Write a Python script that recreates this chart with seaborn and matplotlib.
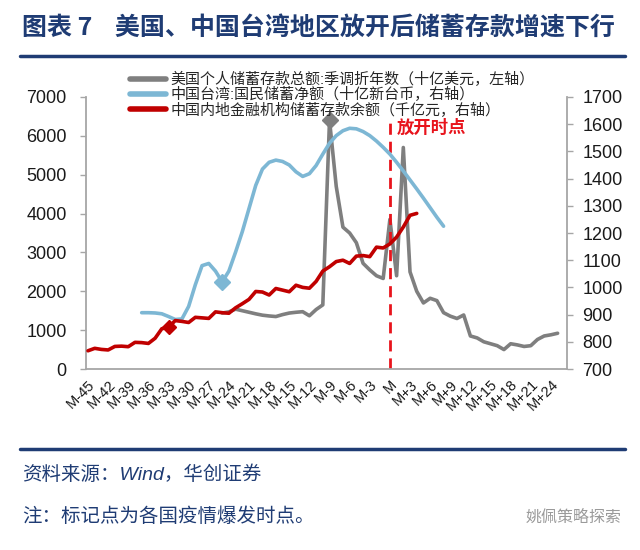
import matplotlib
matplotlib.use('Agg')
import matplotlib.pyplot as plt
from matplotlib.lines import Line2D
from matplotlib.ticker import MultipleLocator
import seaborn as sns

# 美国个人储蓄存款总额（十亿美元，左轴），M-25 ~ M+25
us_months = list(range(-25, 26))
us_values = [1440, 1470, 1540, 1500, 1460, 1420, 1385, 1365, 1350, 1400,
             1440, 1460, 1475, 1370, 1530, 1650, 6400, 4700, 3650, 3500,
             3250, 2720, 2550, 2400, 2330, 3850, 2400, 5700, 2500, 2000,
             1700, 1820, 1760, 1450, 1360, 1300, 1390, 850, 800, 700,
             650, 600, 500, 650, 620, 580, 600, 760, 850, 880, 920]

# 中国台湾国民储蓄净额（十亿新台币，右轴），M-37 ~ M+8
tw_months = list(range(-37, 9))
tw_values = [907, 907, 906, 903, 893, 882, 884, 930, 1010, 1080,
             1088, 1060, 1020, 1060, 1130, 1205, 1290, 1375, 1435, 1460,
             1468, 1463, 1450, 1425, 1408, 1418, 1448, 1490, 1530, 1558,
             1576, 1585, 1583, 1573, 1558, 1538, 1515, 1490, 1460, 1428,
             1395, 1362, 1328, 1293, 1258, 1225]

# 中国内地金融机构储蓄存款余额（千亿元，右轴），M-45 ~ M+4
cn_months = list(range(-45, 5))
cn_values = [767, 776, 772, 770, 783, 784, 782, 798, 797, 794,
             813, 848, 853, 878, 875, 871, 890, 888, 886, 910,
             907, 905, 925, 940, 956, 985, 983, 972, 996, 990,
             984, 1008, 1000, 997, 1022, 1060, 1076, 1095, 1100, 1088,
             1115, 1117, 1113, 1148, 1145, 1160, 1185, 1222, 1265, 1272]

# 疫情爆发时点（标记点）
us_outbreak = -9
tw_outbreak = -25
cn_outbreak = -33

tick_months = list(range(-45, 25, 3))
tick_labels = ['M' if m == 0 else ('M%d' % m if m < 0 else 'M+%d' % m) for m in tick_months]

us_label = '美国个人储蓄存款总额:季调折年数（十亿美元，左轴）'
tw_label = '中国台湾:国民储蓄净额（十亿新台币，右轴）'
cn_label = '中国内地金融机构储蓄存款余额（千亿元，右轴）'

gray = '#7F7F7F'
blue = '#7DB7D4'
red = '#C00000'
navy = '#1F3C74'
axis_gray = '#A6A6A6'

sns.set_style('white')
plt.rcParams['font.family'] = ['Liberation Sans', 'Noto Sans CJK SC', 'DejaVu Sans']
plt.rcParams['axes.unicode_minus'] = False

fig = plt.figure(figsize=(6.4, 5.5), dpi=100)
ax = fig.add_axes([86 / 640, 1 - 369 / 550, 481 / 640, 272 / 550])
ax2 = ax.twinx()

sns.lineplot(x=us_months, y=us_values, ax=ax, color=gray, lw=2.6)
sns.lineplot(x=tw_months, y=tw_values, ax=ax2, color=blue, lw=2.6)
sns.lineplot(x=cn_months, y=cn_values, ax=ax2, color=red, lw=2.6)

ax.plot([us_outbreak], [us_values[us_months.index(us_outbreak)]], marker='D',
        ms=8, color=gray)
ax2.plot([tw_outbreak], [tw_values[tw_months.index(tw_outbreak)]], marker='D',
         ms=8, color=blue)
ax2.plot([cn_outbreak], [cn_values[cn_months.index(cn_outbreak)]], marker='D',
         ms=7, color=red)

ax.axvline(0, ymin=0, ymax=6350 / 7000, color='#E8141C', lw=2,
           ls=(0, (4, 2.5)))
ax.text(1.0, 6200, '放开时点', color='#E8141C', fontsize=12.5, weight='bold',
        va='center', ha='left', family=['Noto Sans CJK SC'])

ax.set_xlim(-45.3, 26.4)
ax.set_ylim(0, 7000)
ax2.set_ylim(700, 1700)
ax.set_yticks(range(0, 7001, 1000))
ax2.set_yticks(range(700, 1701, 100))
ax.set_xticks(tick_months)
ax.set_xticklabels(tick_labels, rotation=45, ha='right', va='top',
                   rotation_mode='anchor', fontsize=10.5)
ax.xaxis.set_minor_locator(MultipleLocator(1))
ax.set_xlabel('')
ax.set_ylabel('')
ax2.set_ylabel('')

for a in (ax, ax2):
    if a.get_legend() is not None:
        a.get_legend().remove()
    a.spines['top'].set_visible(False)
    for s in a.spines.values():
        s.set_color(axis_gray)
        s.set_linewidth(1.3)
    a.tick_params(which='both', direction='out', color=axis_gray, length=4,
                  width=1, labelsize=13, labelcolor='#1A1A1A')
ax.spines['right'].set_visible(False)
ax2.spines['left'].set_visible(False)
ax2.spines['bottom'].set_visible(False)
ax.tick_params(axis='x', which='both', labelsize=10.5, pad=2)
ax.tick_params(axis='y', pad=10)
ax2.tick_params(axis='y', pad=7)

handles = [Line2D([], [], color=gray, lw=4),
           Line2D([], [], color=blue, lw=4),
           Line2D([], [], color=red, lw=4)]
fig.legend(handles, [us_label, tw_label, cn_label], loc='upper left',
           bbox_to_anchor=(124 / 640, 1 - 66 / 550), frameon=False,
           fontsize=10.8, handlelength=2.4, handletextpad=0.3,
           labelspacing=0.02, borderaxespad=0)

fig.text(22 / 640, 1 - 28 / 550, '图表 7    美国、中国台湾地区放开后储蓄存款增速下行',
         fontsize=18, weight='bold', color=navy, va='center',
         family=['Noto Sans CJK SC'])
fig.add_artist(Line2D([20 / 640, 625 / 640], [1 - 56 / 550] * 2, color=navy, lw=2.5))
fig.add_artist(Line2D([20 / 640, 625 / 640], [1 - 449 / 550] * 2, color=navy, lw=2.5))
fig.text(22 / 640, 1 - 475 / 550, '资料来源：Wind，华创证券', fontsize=14,
         color=navy, va='center', style='italic')
fig.text(22 / 640, 1 - 517 / 550, '注：标记点为各国疫情爆发时点。', fontsize=14,
         color=navy, va='center', style='italic')
fig.text(622 / 640, 1 - 517 / 550, '姚佩策略探索', fontsize=11.5, color='#9A9A9A',
         va='center', ha='right', family=['Noto Sans CJK SC'])

fig.savefig('out.png', dpi=100)
